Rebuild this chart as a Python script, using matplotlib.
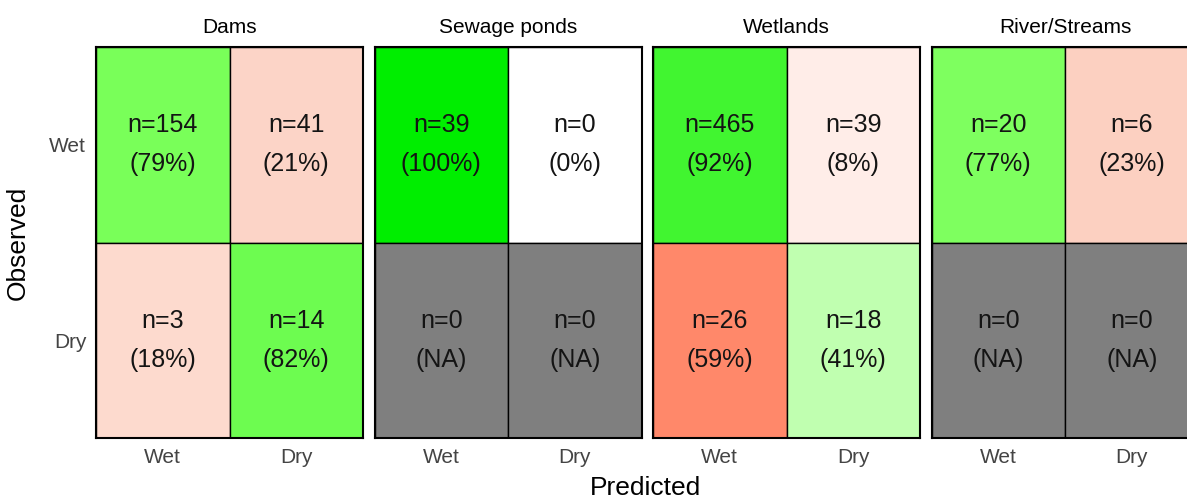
import numpy as np
import matplotlib
matplotlib.use("Agg")
import matplotlib.pyplot as plt
from matplotlib.colors import LinearSegmentedColormap

plt.rcParams['font.family'] = ['Liberation Sans', 'DejaVu Sans']

# habitat panels and confusion counts [observed][predicted], rows Wet, Dry
habitats = ['Dams', 'Sewage ponds', 'Wetlands', 'River/Streams']
classes = ['Wet', 'Dry']
counts = {
    'Dams': [[154, 41], [3, 14]],
    'Sewage ponds': [[39, 0], [0, 0]],
    'Wetlands': [[465, 39], [26, 18]],
    'River/Streams': [[20, 6], [0, 0]],
}

# colour scales (correct = green, wrong = red)
greens = LinearSegmentedColormap.from_list('g', [
    (0.0, (1, 1, 1)), (0.41, (192/255, 1, 176/255)), (0.79, (122/255, 1, 90/255)),
    (0.92, (70/255, 245/255, 52/255)), (1.0, (0, 238/255, 0))])
reds = LinearSegmentedColormap.from_list('r', [
    (0.0, (1, 1, 1)), (0.08, (1, 236/255, 230/255)), (0.21, (252/255, 212/255, 198/255)),
    (0.59, (1, 136/255, 106/255)), (1.0, (1, 60/255, 30/255))])

fig = plt.figure(figsize=(11.87, 4.98), dpi=100)
left, width, gap = 96/1187, 267/1187, 11.5/1187
bottom, height = 60/498, 391/498

for k, hab in enumerate(habitats):
    ax = fig.add_axes([left + k*(width+gap), bottom, width, height])
    M = np.array(counts[hab])
    for i in range(2):
        tot = M[i].sum()
        for j in range(2):
            n = M[i, j]
            if tot == 0:
                col = '#7f7f7f'
                lab = 'n=%d\n(NA)' % n
            else:
                p = n / tot
                col = greens(p) if i == j else reds(p)
                lab = 'n=%d\n(%d%%)' % (n, round(p*100))
            ax.add_patch(plt.Rectangle((j, 1-i), 1, 1, facecolor=col, edgecolor='black', lw=1))
            ax.text(j+0.5, 1-i+0.5, lab, ha='center', va='center', fontsize=18,
                    linespacing=1.8, color='#141414')
    ax.set_xlim(0, 2)
    ax.set_ylim(0, 2)
    ax.set_xticks([0.5, 1.5])
    ax.set_xticklabels(classes)
    ax.set_yticks([1.5, 0.5])
    ax.set_yticklabels(classes if k == 0 else [])
    ax.tick_params(length=0, labelsize=15, labelcolor='#444444', pad=7)
    if k > 0:
        ax.tick_params(axis='y', left=False)
    for s in ax.spines.values():
        s.set_linewidth(1.5)
    ax.set_title(hab, fontsize=15, pad=10)
    if k == 0:
        ax.set_ylabel('Observed', fontsize=19, labelpad=14)

fig.text(645/1187, 1-488/498, 'Predicted', ha='center', va='center', fontsize=19)
fig.savefig('out.png', dpi=100)
